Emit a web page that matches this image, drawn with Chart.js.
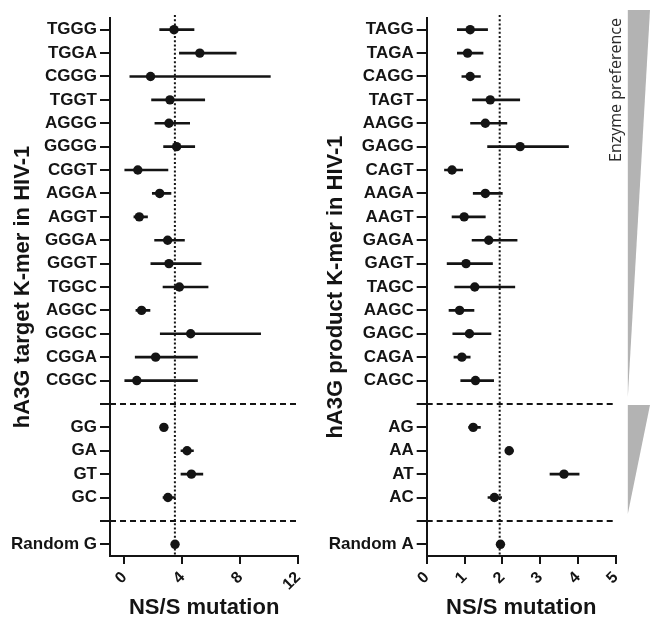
<!DOCTYPE html>
<html>
<head>
<meta charset="utf-8">
<script src="https://cdn.jsdelivr.net/npm/chart.js@4"></script>
<style>
  html, body { margin: 0; padding: 0; background: #ffffff; }
  #wrap { position: relative; width: 650px; height: 618px; overflow: hidden; }
  .panel { position: absolute; top: 0; height: 618px; }
  #left { left: 0; width: 320px; }
  #right { left: 320px; width: 330px; }
</style>
</head>
<body>
<div id="wrap">
  <div class="panel" id="left"><canvas id="cLeft"></canvas></div>
  <div class="panel" id="right"><canvas id="cRight"></canvas></div>
</div>
<script>
// Target K-mers (left panel): NS/S mutation ratio with 95% interval
const targetKmers = ['TGGG','TGGA','CGGG','TGGT','AGGG','GGGG','CGGT','AGGA','AGGT','GGGA','GGGT','TGGC','AGGC','GGGC','CGGA','CGGC','','GG','GA','GT','GC',' ','Random G'];
const targetMean = [3.42,5.20,1.80,3.14,3.07,3.60,0.92,2.43,1.02,2.98,3.07,3.79,1.18,4.57,2.15,0.85,null,2.72,4.32,4.62,3.00,null,3.49];
const targetLow  = [2.43,3.79,0.37,1.87,2.10,2.70,0.02,1.92,0.65,2.08,1.82,2.66,0.79,2.47,0.74,0.02,null,2.62,3.90,3.90,2.66,null,null];
const targetHigh = [4.80,7.71,10.07,5.54,4.50,4.85,3.00,3.21,1.59,4.14,5.29,5.77,1.76,9.40,5.04,5.04,null,2.84,4.76,5.41,3.51,null,null];
const targetRef = 3.48;
const targetTicks = [0, 4, 8, 12];

// Product K-mers (right panel)
const productKmers = ['TAGG','TAGA','CAGG','TAGT','AAGG','GAGG','CAGT','AAGA','AAGT','GAGA','GAGT','TAGC','AAGC','GAGC','CAGA','CAGC','','AG','AA','AT','AC',' ','Random A'];
const productMean = [1.15,1.08,1.15,1.68,1.55,2.47,0.67,1.55,0.99,1.64,1.04,1.27,0.87,1.13,0.93,1.29,null,1.23,2.18,3.63,1.79,null,1.95];
const productLow  = [0.81,0.81,0.93,1.21,1.16,1.61,0.47,1.23,0.67,1.20,0.54,0.74,0.59,0.69,0.72,0.90,null,1.11,2.11,3.26,1.62,null,null];
const productHigh = [1.61,1.49,1.42,2.46,2.12,3.75,0.95,2.00,1.55,2.39,1.74,2.33,1.25,1.70,1.15,1.77,null,1.42,2.29,4.03,1.98,null,null];
const productRef = 1.93;
const productTicks = [0, 1, 2, 3, 4, 5];

// Rows that separate the groups (blank categories)
const separatorRows = ['', ' '];

const FONT = '"Liberation Sans", Arial, Helvetica, sans-serif';
const INK = '#141414';

// Vertical dotted reference line at the random-site ratio
const refLinePlugin = {
  id: 'refLine',
  beforeDatasetsDraw(chart, args, opts) {
    const x = chart.scales.x.getPixelForValue(opts.value);
    const { top, bottom } = chart.chartArea;
    const ctx = chart.ctx;
    ctx.save();
    ctx.strokeStyle = INK;
    ctx.lineWidth = 2;
    ctx.setLineDash([2, 2.2]);
    ctx.beginPath();
    ctx.moveTo(x, top - 3);
    ctx.lineTo(x, bottom);
    ctx.stroke();
    ctx.restore();
  }
};

// Grey wedges and the "Enzyme preference" label beside the product panel
const preferencePlugin = {
  id: 'preference',
  afterDraw(chart, args, opts) {
    if (!opts.show) return;
    const ctx = chart.ctx;
    const y = chart.scales.y;
    const area = chart.chartArea;
    const x0 = area.right + 12;
    const x1 = chart.width;
    const t1Top = area.top - 8;
    const t1Bot = y.getPixelForValue(15) + 17;
    const t2Top = y.getPixelForValue(16) + 1;
    const t2Bot = y.getPixelForValue(21) - 7;
    ctx.save();
    ctx.fillStyle = '#b3b3b3';
    ctx.beginPath();
    ctx.moveTo(x0, t1Top); ctx.lineTo(x1, t1Top); ctx.lineTo(x0, t1Bot); ctx.closePath();
    ctx.fill();
    ctx.beginPath();
    ctx.moveTo(x0, t2Top); ctx.lineTo(x1, t2Top); ctx.lineTo(x0, t2Bot); ctx.closePath();
    ctx.fill();
    ctx.translate(area.right + 0.5, area.top + 72);
    ctx.rotate(-Math.PI / 2);
    ctx.fillStyle = '#2a2a2a';
    ctx.font = '16px "Open Sans", "Noto Sans", sans-serif';
    ctx.textAlign = 'center';
    ctx.textBaseline = 'middle';
    ctx.fillText('Enzyme preference', 0, 0);
    ctx.restore();
  }
};

function buildChart(canvasId, cfg) {
  const bars = cfg.low.map((lo, i) => (lo === null ? null : [lo, cfg.high[i]]));
  const sepSets = separatorRows.map(row => ({
    type: 'line',
    indexAxis: 'y',
    data: [{ x: cfg.min, y: row }, { x: cfg.max, y: row }],
    borderColor: INK,
    borderWidth: 2,
    borderDash: [6, 4],
    pointRadius: 0,
    fill: false,
    clip: false,
    order: 3
  }));
  return new Chart(document.getElementById(canvasId), {
    type: 'bar',
    data: {
      labels: cfg.kmers,
      datasets: [
        {
          type: 'bar',
          indexAxis: 'y',
          data: bars,
          backgroundColor: INK,
          borderWidth: 0,
          barThickness: 2,
          order: 2
        },
        {
          type: 'line',
          indexAxis: 'y',
          data: cfg.mean,
          showLine: false,
          pointRadius: 4.7,
          pointHoverRadius: 4.7,
          pointBackgroundColor: INK,
          pointBorderWidth: 0,
          borderColor: INK,
          order: 1
        },
        ...sepSets
      ]
    },
    options: {
      indexAxis: 'y',
      responsive: true,
      maintainAspectRatio: false,
      animation: false,
      events: [],
      layout: { padding: { top: 18, right: cfg.padRight, bottom: 0, left: 0 } },
      plugins: {
        legend: { display: false },
        tooltip: { enabled: false },
        refLine: { value: cfg.ref },
        preference: { show: cfg.preference }
      },
      scales: {
        y: {
          type: 'category',
          offset: true,
          grid: { offset: false, drawOnChartArea: false, drawTicks: true, tickLength: 10, color: INK, lineWidth: 2 },
          border: { display: true, color: INK, width: 2 },
          ticks: { autoSkip: false, padding: 3, color: INK, font: { family: FONT, size: 17, weight: 'bold' } },
          title: {
            display: true,
            text: cfg.yTitle,
            color: INK,
            font: { family: FONT, size: 22, weight: 'bold', lineHeight: 1.2 },
            padding: { top: cfg.titlePad, bottom: 0 }
          },
          afterFit(scale) { scale.width = cfg.axisWidth; }
        },
        x: {
          type: 'linear',
          min: cfg.min,
          max: cfg.max,
          afterBuildTicks(scale) { scale.ticks = cfg.ticks.map(v => ({ value: v })); },
          grid: { drawOnChartArea: false, drawTicks: true, tickLength: 8, color: INK, lineWidth: 2 },
          border: { display: true, color: INK, width: 2 },
          ticks: { minRotation: 45, maxRotation: 45, padding: 4, color: INK, font: { family: FONT, size: 16, weight: 'bold' } },
          title: {
            display: true,
            text: 'NS/S mutation',
            color: INK,
            font: { family: FONT, size: 22, weight: 'bold', lineHeight: 0.9 },
            padding: { top: 0, bottom: 0 }
          },
          afterFit(scale) { scale.height = 62; }
        }
      }
    },
    plugins: [refLinePlugin, preferencePlugin]
  });
}

buildChart('cLeft', {
  kmers: targetKmers, mean: targetMean, low: targetLow, high: targetHigh,
  ref: targetRef, ticks: targetTicks, min: -1, max: 12,
  yTitle: 'hA3G target K-mer in HIV-1',
  axisWidth: 110, padRight: 21.7, titlePad: 10, preference: false
});

buildChart('cRight', {
  kmers: productKmers, mean: productMean, low: productLow, high: productHigh,
  ref: productRef, ticks: productTicks, min: 0, max: 5,
  yTitle: 'hA3G product K-mer in HIV-1',
  axisWidth: 106.7, padRight: 34.2, titlePad: 3, preference: true
});
</script>
</body>
</html>
